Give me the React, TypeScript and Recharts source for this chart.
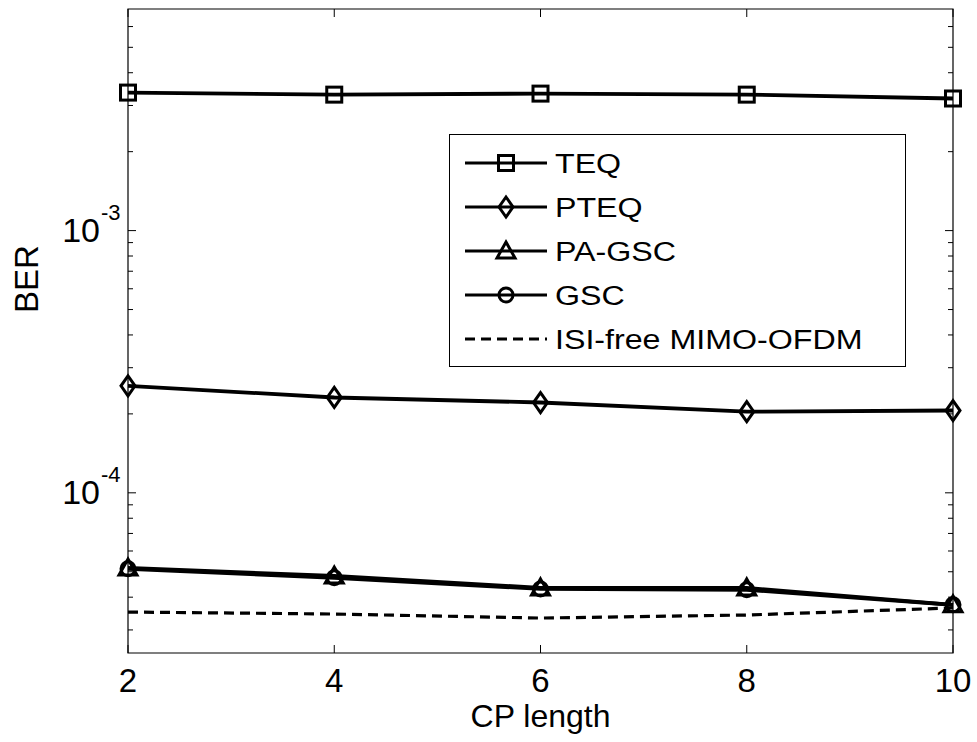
import React from "react";
import { LineChart, Line, XAxis, YAxis, ReferenceArea } from "recharts";

const cpLength = [2, 4, 6, 8, 10];
const teq = [3.36e-3, 3.3e-3, 3.33e-3, 3.3e-3, 3.19e-3];
const pteq = [2.56e-4, 2.31e-4, 2.21e-4, 2.04e-4, 2.06e-4];
const paGsc = [5.17e-5, 4.82e-5, 4.34e-5, 4.34e-5, 3.74e-5];
const gsc = [5.13e-5, 4.74e-5, 4.3e-5, 4.27e-5, 3.74e-5];
const isiFree = [3.51e-5, 3.45e-5, 3.33e-5, 3.42e-5, 3.64e-5];

const xTicks = [2, 4, 6, 8, 10];
const yTicks = [
  3e-5, 4e-5, 5e-5, 6e-5, 7e-5, 8e-5, 9e-5, 1e-4,
  2e-4, 3e-4, 4e-4, 5e-4, 6e-4, 7e-4, 8e-4, 9e-4, 1e-3,
  2e-3, 3e-3, 4e-3, 5e-3, 6e-3,
];
const yDomain = [2.45e-5, 7e-3];

const data = cpLength.map((cp, i) => ({
  cp,
  teq: teq[i],
  pteq: pteq[i],
  paGsc: paGsc[i],
  gsc: gsc[i],
  isiFree: isiFree[i],
}));

const W = 977;
const H = 742;
const TOP = 9;
const LEFT = 128;
const RIGHT = 24;
const BOTTOM = 89;
const FONT = "'Liberation Sans', Arial, sans-serif";

function Marker({ kind, cx, cy }: { kind: string; cx: number; cy: number }) {
  const s = { fill: "none", stroke: "#000", strokeWidth: 3 };
  if (kind === "square") return <rect x={cx - 7.5} y={cy - 7.5} width={15} height={15} {...s} />;
  if (kind === "diamond")
    return <polygon points={`${cx},${cy - 10} ${cx + 7},${cy} ${cx},${cy + 10} ${cx - 7},${cy}`} {...s} />;
  if (kind === "triangle")
    return <polygon points={`${cx},${cy - 9} ${cx + 9},${cy + 7} ${cx - 9},${cy + 7}`} {...s} />;
  if (kind === "circle") return <circle cx={cx} cy={cy} r={7} {...s} />;
  return null;
}

const dotFor = (kind: string) => (p: any) =>
  <Marker key={`${kind}-${p.index}`} kind={kind} cx={p.cx} cy={p.cy} />;

const XTick = (p: any) => {
  const { x, y, payload } = p;
  return (
    <g>
      <line x1={x} y1={y} x2={x} y2={y - 8} stroke="#000" />
      <line x1={x} y1={TOP} x2={x} y2={TOP + 8} stroke="#000" />
      <text x={x} y={y + 39} textAnchor="middle" fontSize={33} fontFamily={FONT} fill="#000">
        {payload.value}
      </text>
    </g>
  );
};

const YTick = (p: any) => {
  const { x, y, payload } = p;
  const lg = Math.log10(payload.value);
  const major = Math.abs(lg - Math.round(lg)) < 1e-6;
  const len = major ? 8 : 5;
  const rx = W - RIGHT;
  return (
    <g>
      <line x1={x} y1={y} x2={x + len} y2={y} stroke="#000" />
      <line x1={rx} y1={y} x2={rx - len} y2={y} stroke="#000" />
      {major && (
        <g fontFamily={FONT} fill="#000">
          <text x={x - 28} y={y + 11} textAnchor="end" fontSize={34}>10</text>
          <text x={x - 27} y={y - 11} textAnchor="start" fontSize={22}>{Math.round(lg)}</text>
        </g>
      )}
    </g>
  );
};

const XLabel = (p: any) => {
  const vb = p.viewBox;
  return (
    <text x={vb.x + vb.width / 2} y={727} textAnchor="middle" fontSize={32} fontFamily={FONT} fill="#000">
      CP length
    </text>
  );
};

const YLabel = () => (
  <text
    transform="translate(38, 279) rotate(-90)"
    textAnchor="middle"
    fontSize={33}
    fontFamily={FONT}
    fill="#000"
  >
    BER
  </text>
);

const legendItems = [
  { name: "TEQ", kind: "square", dash: undefined },
  { name: "PTEQ", kind: "diamond", dash: undefined },
  { name: "PA-GSC", kind: "triangle", dash: undefined },
  { name: "GSC", kind: "circle", dash: undefined },
  { name: "ISI-free MIMO-OFDM", kind: "none", dash: "10 6" },
];

const LegendBox = () => (
  <svg width={457} height={233} style={{ display: "block" }}>
    <rect x={0.5} y={0.5} width={456} height={232} fill="#fff" stroke="#000" />
    {legendItems.map((it, i) => {
      const cy = 29 + i * 44;
      return (
        <g key={it.name}>
          <line x1={16} y1={cy} x2={98} y2={cy} stroke="#000" strokeWidth={3} strokeDasharray={it.dash} />
          <Marker kind={it.kind} cx={57} cy={cy} />
          <text
            transform={`translate(106, ${cy + 10}) scale(1.15, 1)`}
            fontSize={28}
            fontFamily={FONT}
            fill="#000"
          >
            {it.name}
          </text>
        </g>
      );
    })}
  </svg>
);

export default function App() {
  return (
    <div style={{ position: "absolute", left: 0, top: 0, width: W, height: H, background: "#fff" }}>
      <LineChart
        width={W}
        height={H}
        data={data}
        margin={{ top: TOP, right: RIGHT, left: 0, bottom: 0 }}
      >
        <XAxis
          dataKey="cp"
          type="number"
          domain={[2, 10]}
          ticks={xTicks}
          interval={0}
          height={BOTTOM}
          tickSize={0}
          tickMargin={0}
          tick={<XTick />}
          axisLine={false}
          label={<XLabel />}
        />
        <YAxis
          type="number"
          scale="log"
          domain={yDomain}
          allowDataOverflow
          ticks={yTicks}
          interval={0}
          width={LEFT}
          tickSize={0}
          tickMargin={0}
          tick={<YTick />}
          axisLine={false}
          label={<YLabel />}
        />
        <ReferenceArea
          x1={2}
          x2={10}
          y1={yDomain[0]}
          y2={yDomain[1]}
          fill="none"
          stroke="#000"
          strokeWidth={1.2}
          ifOverflow="visible"
        />
        <Line dataKey="isiFree" name="ISI-free MIMO-OFDM" stroke="#000" strokeWidth={3.2} strokeDasharray="10 6" dot={false} isAnimationActive={false} />
        <Line dataKey="teq" name="TEQ" stroke="#000" strokeWidth={3.8} dot={dotFor("square")} isAnimationActive={false} />
        <Line dataKey="pteq" name="PTEQ" stroke="#000" strokeWidth={3.8} dot={dotFor("diamond")} isAnimationActive={false} />
        <Line dataKey="paGsc" name="PA-GSC" stroke="#000" strokeWidth={3.8} dot={dotFor("triangle")} isAnimationActive={false} />
        <Line dataKey="gsc" name="GSC" stroke="#000" strokeWidth={3.8} dot={dotFor("circle")} isAnimationActive={false} />
      </LineChart>
      <div style={{ position: "absolute", left: 449, top: 134 }}>
        <LegendBox />
      </div>
    </div>
  );
}
